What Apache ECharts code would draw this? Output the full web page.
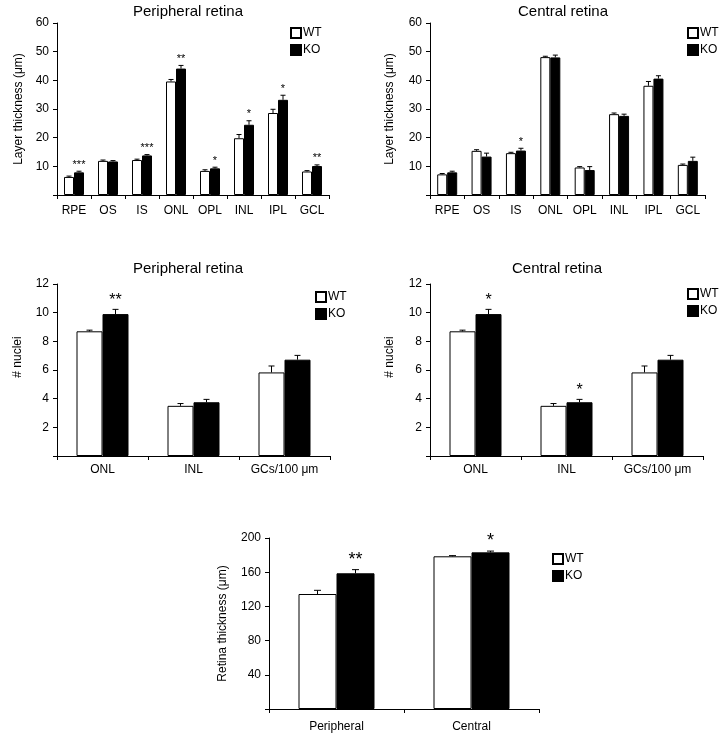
<!DOCTYPE html>
<html><head><meta charset="utf-8">
<script src="https://cdn.jsdelivr.net/npm/echarts@6/dist/echarts.min.js"></script>
<style>html,body{margin:0;padding:0;background:#fff}#c{width:723px;height:742px}</style>
</head><body><div id="c"></div>
<script>
// ---------- data ----------
const layerCats = ['RPE', 'OS', 'IS', 'ONL', 'OPL', 'INL', 'IPL', 'GCL'];
const periphWT = [6.3, 11.9, 12.2, 39.6, 8.4, 19.8, 28.6, 8.2];
const periphWTErr = [0.3, 0.3, 0.3, 0.7, 0.4, 1.3, 1.3, 0.3];
const periphKO = [7.9, 11.7, 13.8, 44.1, 9.3, 24.5, 33.2, 10.1];
const periphKOErr = [0.4, 0.3, 0.3, 1.1, 0.4, 1.4, 1.6, 0.4];
const periphStars = ['***', '', '***', '**', '*', '*', '*', '**'];

const centralWT = [7.2, 15.4, 14.6, 48.1, 9.6, 28.2, 38.1, 10.5];
const centralWTErr = [0.3, 0.4, 0.3, 0.3, 0.3, 0.4, 1.5, 0.3];
const centralKO = [7.9, 13.4, 15.5, 48.0, 8.7, 27.6, 40.6, 11.9];
const centralKOErr = [0.4, 1.2, 0.8, 0.8, 1.2, 0.6, 1.0, 1.3];
const centralStars = ['', '', '*', '', '', '', '', ''];

const nucleiCats = ['ONL', 'INL', 'GCs/100 μm'];
const nucPeriphWT = [8.7, 3.5, 5.83];
const nucPeriphWTErr = [0.08, 0.16, 0.45];
const nucPeriphKO = [9.9, 3.75, 6.72];
const nucPeriphKOErr = [0.33, 0.2, 0.3];
const nucPeriphStars = ['**', '', ''];

const nucCentralWT = [8.7, 3.5, 5.83];
const nucCentralWTErr = [0.08, 0.16, 0.45];
const nucCentralKO = [9.9, 3.75, 6.72];
const nucCentralKOErr = [0.33, 0.2, 0.3];
const nucCentralStars = ['*', '*', ''];

const retinaCats = ['Peripheral', 'Central'];
const retinaWT = [134.5, 178.6];
const retinaWTErr = [4.3, 0.8];
const retinaKO = [158.7, 183.2];
const retinaKOErr = [4.3, 1.5];
const retinaStars = ['**', '*'];

const groupNames = ['WT', 'KO'];

// ---------- layout ----------
const FONT = 'Arial, "Liberation Sans", Helvetica, sans-serif';
const panels = [
  { title: 'Peripheral retina', cats: layerCats, wt: periphWT, wtErr: periphWTErr, ko: periphKO, koErr: periphKOErr, stars: periphStars,
    grid: { left: 57, top: 23, width: 272, height: 172 }, max: 60, interval: 10, yName: 'Layer thickness (μm)', nameGap: 32, namePad: [0, 0, 0, 0],
    barWidth: 10, cap: 2.5, starSize: 11, starGap: 1, labelMargin: 10, titleX: 188, titleY: 12, legend: [290, 27] },
  { title: 'Central retina', cats: layerCats, wt: centralWT, wtErr: centralWTErr, ko: centralKO, koErr: centralKOErr, stars: centralStars,
    grid: { left: 430, top: 23, width: 275, height: 172 }, max: 60, interval: 10, yName: 'Layer thickness (μm)', nameGap: 34, namePad: [0, 0, 0, 0],
    barWidth: 10, cap: 2.5, starSize: 11, starGap: 1, labelMargin: 10, titleX: 563, titleY: 12, legend: [687, 27] },
  { title: 'Peripheral retina', cats: nucleiCats, wt: nucPeriphWT, wtErr: nucPeriphWTErr, ko: nucPeriphKO, koErr: nucPeriphKOErr, stars: nucPeriphStars,
    grid: { left: 57, top: 284, width: 273, height: 172 }, max: 12, interval: 2, yName: '# nuclei', nameGap: 33, namePad: [0, 0, 0, 26],
    barWidth: 26, cap: 3, starSize: 16, starGap: 1, labelMargin: 8, titleX: 188, titleY: 269, legend: [315, 291] },
  { title: 'Central retina', cats: nucleiCats, wt: nucCentralWT, wtErr: nucCentralWTErr, ko: nucCentralKO, koErr: nucCentralKOErr, stars: nucCentralStars,
    grid: { left: 430, top: 284, width: 273, height: 172 }, max: 12, interval: 2, yName: '# nuclei', nameGap: 34, namePad: [0, 0, 0, 26],
    barWidth: 26, cap: 3, starSize: 16, starGap: 1, labelMargin: 8, titleX: 557, titleY: 269, legend: [687, 288] },
  { title: '', cats: retinaCats, wt: retinaWT, wtErr: retinaWTErr, ko: retinaKO, koErr: retinaKOErr, stars: retinaStars,
    grid: { left: 269, top: 538, width: 270, height: 171 }, max: 200, interval: 40, yName: 'Retina thickness (μm)', nameGap: 40, namePad: [0, 0, 0, 0],
    barWidth: 38, cap: 3.5, starSize: 18, starGap: 1, labelMargin: 12, titleX: 400, titleY: 520, legend: [552, 553] }
];

function errSeries(i, p, side, vals, errs, stars) {
  return {
    type: 'custom', xAxisIndex: i, yAxisIndex: i, silent: true, z: 5, clip: false,
    data: vals.map((v, k) => [k, v, errs[k]]),
    encode: { x: 0, y: 1 },
    renderItem: function (params, api) {
      const k = api.value(0), v = api.value(1), e = api.value(2);
      const base = api.coord([k, v]);
      const top = api.coord([k, v + e]);
      const cx = base[0] + side * p.barWidth / 2;
      const children = [
        { type: 'line', shape: { x1: cx, y1: base[1], x2: cx, y2: top[1] }, style: { stroke: '#000', lineWidth: 1 } },
        { type: 'line', shape: { x1: cx - p.cap, y1: top[1], x2: cx + p.cap, y2: top[1] }, style: { stroke: '#000', lineWidth: 1 } }
      ];
      const s = stars ? stars[params.dataIndex] : '';
      if (s) {
        children.push({ type: 'text', x: cx, y: top[1] - p.starGap,
          style: { text: s, fill: '#000', fontSize: p.starSize, fontFamily: FONT, align: 'center', verticalAlign: 'bottom' } });
      }
      return { type: 'group', children: children };
    }
  };
}

const option = {
  backgroundColor: '#fff',
  animation: false,
  textStyle: { fontFamily: FONT },
  title: panels.filter(p => p.title).map(p => ({
    text: p.title, left: p.titleX - 5, top: p.titleY - 5, textAlign: 'center', textVerticalAlign: 'middle',
    textStyle: { fontSize: 15, fontWeight: 'normal', color: '#000', fontFamily: FONT }
  })),
  legend: panels.map(p => ({
    data: groupNames, orient: 'vertical', left: p.legend[0], top: p.legend[1], padding: 0,
    itemWidth: 10, itemHeight: 10, itemGap: 5, icon: 'rect', selectedMode: false,
    textStyle: { fontSize: 12, color: '#000', fontFamily: FONT, padding: [0, 0, 0, -3] }
  })),
  grid: panels.map(p => Object.assign({ containLabel: false }, p.grid)),
  xAxis: panels.map((p, i) => ({
    type: 'category', gridIndex: i, data: p.cats,
    axisLine: { lineStyle: { color: '#000', width: 1 } },
    axisTick: { show: true, length: 4, lineStyle: { color: '#000' } },
    axisLabel: { color: '#000', fontSize: 12, margin: p.labelMargin, interval: 0, fontFamily: FONT }
  })),
  yAxis: panels.map((p, i) => ({
    type: 'value', gridIndex: i, min: 0, max: p.max, interval: p.interval,
    splitLine: { show: false },
    axisLine: { show: true, lineStyle: { color: '#000', width: 1 } },
    axisTick: { show: true, length: 4, lineStyle: { color: '#000' } },
    axisLabel: { color: '#000', fontSize: 12, margin: 8, fontFamily: FONT, formatter: v => (v === 0 ? '' : String(v)) },
    name: p.yName, nameLocation: 'middle', nameGap: p.nameGap,
    nameTextStyle: { fontSize: 12, color: '#000', fontFamily: FONT, padding: p.namePad }
  })),
  series: panels.flatMap((p, i) => [
    { type: 'bar', name: 'WT', xAxisIndex: i, yAxisIndex: i, data: p.wt, barWidth: p.barWidth, barGap: '0%',
      itemStyle: { color: '#fff', borderColor: '#000', borderWidth: 1 } },
    { type: 'bar', name: 'KO', xAxisIndex: i, yAxisIndex: i, data: p.ko, barWidth: p.barWidth, barGap: '0%',
      itemStyle: { color: '#000', borderColor: '#000', borderWidth: 1 } },
    errSeries(i, p, -1, p.wt, p.wtErr, null),
    errSeries(i, p, 1, p.ko, p.koErr, p.stars)
  ])
};

const chart = echarts.init(document.getElementById('c'));
chart.setOption(option);
</script>
</body></html>
